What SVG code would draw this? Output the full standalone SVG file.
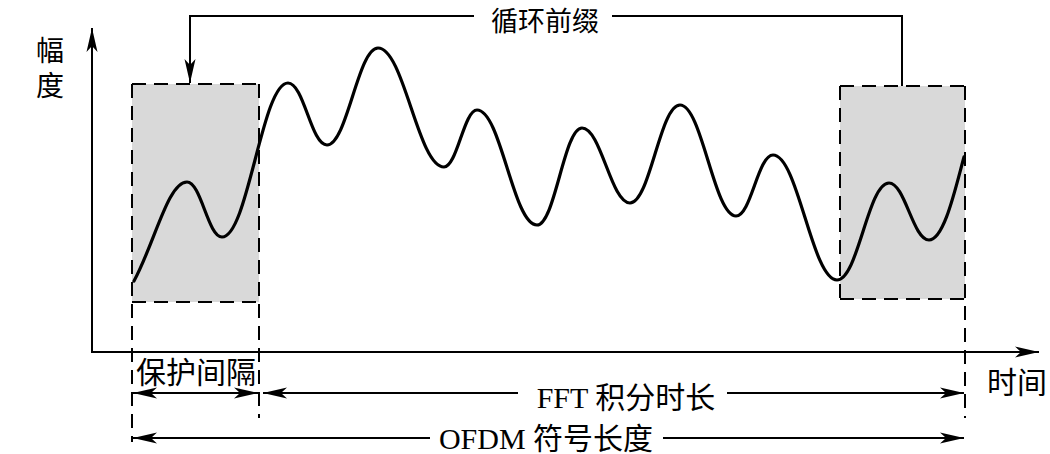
<svg xmlns="http://www.w3.org/2000/svg" width="1050" height="454" viewBox="0 0 1050 454">
<style>
.ln{stroke:#000;stroke-width:2;fill:none}
.dash{stroke:#000;stroke-width:2;fill:none;stroke-dasharray:14 8}
.wave{stroke:#000;stroke-width:3.2;fill:none;stroke-linejoin:round;stroke-linecap:round}
.box{fill:#d9d9d9;stroke:none}
.cjk{font-family:"Noto Sans CJK SC","Noto Sans CJK JP",sans-serif;font-size:30px;fill:#000}
.mix{font-family:"Liberation Serif","Noto Sans CJK SC",serif;font-size:30px;fill:#000}
</style>
<defs>
<marker id="ah" viewBox="-26 -7 27 14" refX="0" refY="0" markerWidth="27" markerHeight="14" markerUnits="userSpaceOnUse" orient="auto-start-reverse">
<path d="M0,0 L-24,-5.5 L-18,0 L-24,5.5 Z" fill="#000"/>
</marker>
</defs>
<rect width="1050" height="454" fill="#fff"/>

<g id="guard-box">
<rect class="box" x="132" y="84" width="127" height="218"/>
<line class="dash" x1="132" y1="84" x2="259" y2="84"/>
<line class="dash" x1="132" y1="302" x2="259" y2="302"/>
<line class="dash" x1="132" y1="84" x2="132" y2="442"/>
<line class="dash" x1="259" y1="84" x2="259" y2="418"/>
</g>

<g id="prefix-box">
<rect class="box" x="840" y="86" width="125" height="213"/>
<line class="dash" x1="840" y1="86" x2="965" y2="86"/>
<line class="dash" x1="840" y1="299" x2="965" y2="299"/>
<line class="dash" x1="840" y1="86" x2="840" y2="299"/>
<line class="dash" x1="965" y1="86" x2="965" y2="418"/>
</g>

<g id="axes">
<line class="ln" x1="92" y1="352" x2="92" y2="28" marker-end="url(#ah)"/>
<line class="ln" x1="91" y1="352" x2="1039" y2="352" marker-end="url(#ah)"/>
<text class="cjk" x="50" y="36" writing-mode="tb" style="font-size:28px;letter-spacing:7px">幅度</text>
<text class="cjk" x="987" y="393">时间</text>
</g>

<g id="waveform">
<path class="wave" d="M134,281 C155,242 168,182 187,182 C201,182 208,237 222,237 C248,237 262,83 288,83 C304,83 311,145 327,145 C347,145 358,48 378,48 C404,48 418,167 444,167 C457,167 464,110 477,110 C501,110 513,225 537,225 C555,225 564,128 582,128 C601,128 611,203 630,203 C650,203 660,105 680,105 C702,105 714,216 736,216 C751,216 758,155 773,155 C798,155 812,280 837,280 C858,280 868,183 889,183 C905,183 913,240 929,240 C944,240 955,190 964,157"/>
</g>

<g id="connectors">
<polyline class="ln" points="474,16 190,16 190,83" marker-end="url(#ah)"/>
<polyline class="ln" points="612,16 902,16 902,86"/>
<line class="ln" x1="133" y1="393" x2="258" y2="393" marker-start="url(#ah)" marker-end="url(#ah)"/>
<line class="ln" x1="263" y1="393" x2="518" y2="393" marker-start="url(#ah)"/>
<line class="ln" x1="727" y1="393" x2="964" y2="393" marker-end="url(#ah)"/>
<line class="ln" x1="133" y1="438" x2="430" y2="438" marker-start="url(#ah)"/>
<line class="ln" x1="663" y1="438" x2="964" y2="438" marker-end="url(#ah)"/>
</g>

<g id="labels">
<text class="cjk" x="545" y="31" text-anchor="middle" style="font-size:27px">循环前缀</text>
<text class="cjk" x="136" y="383">保护间隔</text>
<text class="mix" x="626" y="408" text-anchor="middle">FFT 积分时长</text>
<text class="mix" x="546" y="449" text-anchor="middle">OFDM 符号长度</text>
</g>
</svg>
